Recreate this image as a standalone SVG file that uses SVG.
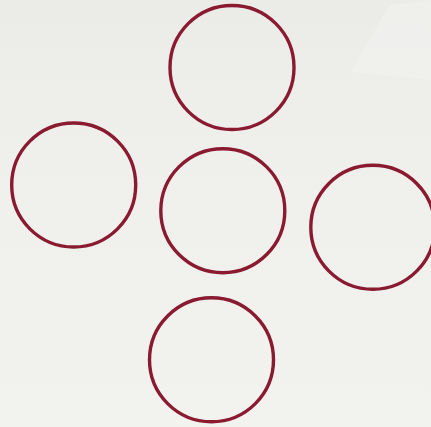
<svg xmlns="http://www.w3.org/2000/svg" width="431" height="427" viewBox="0 0 431 427">
  <style>
    .ring { fill: none; stroke: #8a1a30; stroke-width: 3.4; }
  </style>
  <defs>
    <linearGradient id="bg" x1="0" y1="0" x2="0" y2="1">
      <stop offset="0" stop-color="#ebebe8"/>
      <stop offset="0.35" stop-color="#efefec"/>
      <stop offset="1" stop-color="#f2f3ef"/>
    </linearGradient>
  </defs>
  <rect x="0" y="0" width="431" height="427" fill="url(#bg)"/>
  <polygon points="390,5 431,0 431,80 350,72" fill="#f4f4f2" opacity="0.45"/>
  <g id="node-top"><circle class="ring" cx="232" cy="67.5" r="62"/></g>
  <g id="node-left"><circle class="ring" cx="73.7" cy="185" r="62"/></g>
  <g id="node-center"><circle class="ring" cx="222.8" cy="210.7" r="62"/></g>
  <g id="node-right"><circle class="ring" cx="372.8" cy="227.3" r="62"/></g>
  <g id="node-bottom"><circle class="ring" cx="211.5" cy="359.8" r="62"/></g>
  <g id="connectors"></g>
</svg>
